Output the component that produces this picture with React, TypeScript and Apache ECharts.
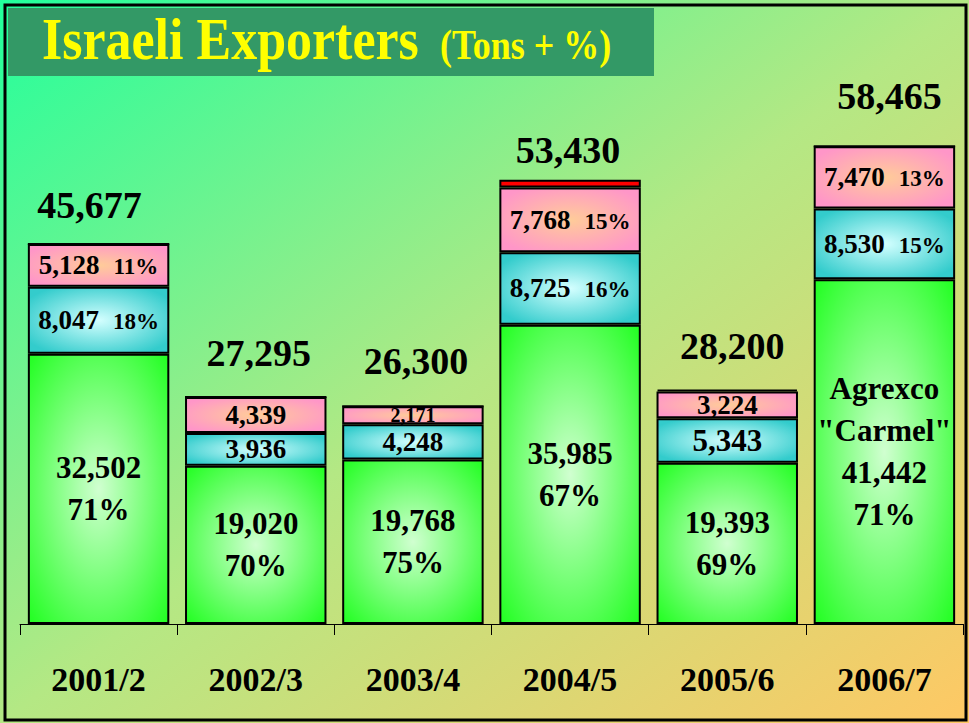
import React, { useEffect, useRef } from "react";
import * as echarts from "echarts";

const categories = ["2001/2", "2002/3", "2003/4", "2004/5", "2005/6", "2006/7"];
const agrexco = [32502, 19020, 19768, 35985, 19393, 41442];
const agrexcoPct = [71, 70, 75, 67, 69, 71];
const exporterB = [8047, 3936, 4248, 8725, 5343, 8530];
const exporterBPct: (number | null)[] = [18, null, null, 16, null, 15];
const exporterC = [5128, 4339, 2171, 7768, 3224, 7470];
const exporterCPct: (number | null)[] = [11, null, null, 15, null, 13];
const others = [0, 0, 0, 952, 240, 0];
const totals = [45677, 27295, 26300, 53430, 28200, 58465];

// layout-only tweaks (not data)
const totalLabelOffsets = [[-9, -39], [3, -44], [3, -44], [-2, -30], [5, -43], [5, -42]];
const segFontB = ["v", "v", "v", "v", "vl", "v"];
const segFontC = ["v", "v", "vs", "v", "v", "v"];

const FONT = '"Liberation Serif", "Times New Roman", serif';
const fmt = (n: number) => n.toLocaleString("en-US");

const radial = (center: string, edge: string, r = 0.7) =>
  new echarts.graphic.RadialGradient(0.5, 0.5, r, [
    { offset: 0, color: center },
    { offset: 1, color: edge },
  ]);

const segRich = {
  v: { fontSize: 27, fontWeight: "bold", fontFamily: FONT, color: "#000" },
  vs: { fontSize: 20, fontWeight: "bold", fontFamily: FONT, color: "#000" },
  vl: { fontSize: 31, fontWeight: "bold", fontFamily: FONT, color: "#000" },
  p: { fontSize: 23, fontWeight: "bold", fontFamily: FONT, color: "#000", padding: [3, 0, 0, 14] },
};

function segData(vals: number[], pcts: (number | null)[], styles: string[]) {
  return vals.map((v, i) => ({
    value: v,
    label: {
      formatter:
        pcts[i] != null ? `{${styles[i]}|${fmt(v)}}{p|${pcts[i]}%}` : `{${styles[i]}|${fmt(v)}}`,
    },
  }));
}

export default function App() {
  const ref = useRef<HTMLDivElement>(null);
  useEffect(() => {
    document.body.style.margin = "0";
    if (!ref.current) return;
    const chart = echarts.init(ref.current, undefined, { renderer: "svg" });
    const barBorder = { borderColor: "#000", borderWidth: 2 };
    const option: any = {
      animation: false,
      grid: { left: 20, right: 6, top: 125, bottom: 99, containLabel: false },
      xAxis: {
        type: "category",
        data: categories,
        axisLine: { lineStyle: { color: "#000", width: 1 } },
        axisTick: { show: true, length: 11, lineStyle: { color: "#000" } },
        axisLabel: {
          interval: 0,
          fontSize: 34,
          fontWeight: "bold",
          fontFamily: FONT,
          color: "#000",
          margin: 55,
          verticalAlign: "middle",
        },
      },
      yAxis: { type: "value", min: 0, max: 60000, show: false },
      graphic: [
        {
          type: "rect",
          z: -100,
          silent: true,
          shape: { x: 0, y: 0, width: 969, height: 723 },
          style: {
            fill: new echarts.graphic.LinearGradient(0, 0, 1, 1, [
              { offset: 0, color: "#22FF9C" },
              { offset: 0.5, color: "#B4E884" },
              { offset: 1, color: "#FFC864" },
            ]),
          },
        },
        {
          type: "rect",
          z: 50,
          shape: { x: 8, y: 8, width: 646, height: 68 },
          style: { fill: "#339966" },
        },
        {
          type: "text",
          z: 51,
          x: 42,
          y: 39,
          scaleY: 1.15,
          style: {
            text: "Israeli Exporters",
            fill: "#FFFF00",
            font: `bold 52px ${FONT}`,
            verticalAlign: "middle",
            align: "left",
          },
        },
        {
          type: "text",
          z: 51,
          x: 440,
          y: 45,
          scaleY: 1.15,
          style: {
            text: "(Tons + %)",
            fill: "#FFFF00",
            font: `bold 36px ${FONT}`,
            verticalAlign: "middle",
            align: "left",
          },
        },
        {
          type: "rect",
          z: 100,
          silent: true,
          shape: { x: 5, y: 5, width: 961, height: 715 },
          style: { fill: "none", stroke: "#000", lineWidth: 3 },
        },
      ],
      series: [
        {
          name: "Agrexco",
          type: "bar",
          stack: "t",
          barWidth: "90%",
          itemStyle: { color: radial("#D0FFD0", "#22FF22", 0.7), ...barBorder },
          label: {
            show: true,
            position: "inside",
            fontSize: 31,
            lineHeight: 42,
            fontWeight: "bold",
            fontFamily: FONT,
            color: "#000",
          },
          data: agrexco.map((v, i) => ({
            value: v,
            label: {
              formatter: (i === 5 ? 'Agrexco\n"Carmel"\n' : "") + `${fmt(v)}\n${agrexcoPct[i]}%`,
            },
          })),
        },
        {
          name: "Exporter B",
          type: "bar",
          stack: "t",
          itemStyle: { color: radial("#D4FFFF", "#33CCCC", 0.6), ...barBorder },
          label: { show: true, position: "inside", rich: segRich },
          data: segData(exporterB, exporterBPct, segFontB),
        },
        {
          name: "Exporter C",
          type: "bar",
          stack: "t",
          itemStyle: { color: radial("#FFCC99", "#FF96C8", 0.6), ...barBorder },
          label: { show: true, position: "inside", rich: segRich },
          data: segData(exporterC, exporterCPct, segFontC),
        },
        {
          name: "Others",
          type: "bar",
          stack: "t",
          itemStyle: { color: "#FF0000", ...barBorder },
          data: others,
        },
        {
          name: "Total",
          type: "scatter",
          symbolSize: 0,
          itemStyle: { color: "#000", opacity: 1 },
          label: {
            show: true,
            position: "inside",
            fontSize: 38,
            fontWeight: "bold",
            fontFamily: FONT,
            color: "#000",
            opacity: 1,
            textBorderWidth: 0,
            formatter: (p: any) => fmt(p.value),
          },
          data: totals.map((v, i) => ({ value: v, label: { offset: totalLabelOffsets[i] } })),
        },
      ],
    };
    chart.setOption(option);
    return () => chart.dispose();
  }, []);
  return <div ref={ref} style={{ width: 969, height: 723 }} />;
}
